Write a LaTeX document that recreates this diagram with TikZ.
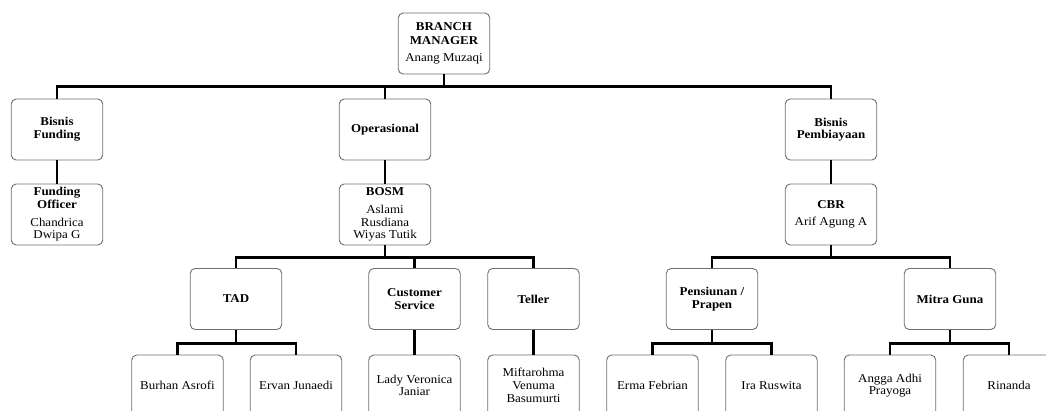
\documentclass[tikz,border=0pt]{standalone}
\usepackage{fontspec}
\setmainfont{Liberation Serif}[FakeStretch=1.08]
\definecolor{boxgray}{RGB}{112,112,112}
\begin{document}
\begin{tikzpicture}[x=1pt,y=-1pt,
  box/.style={draw=boxgray, line width=0.9pt, rounded corners=5pt, fill=white,
    minimum width=91.5pt, minimum height=61pt, align=center, inner sep=1pt,
    font=\fontsize{12}{12.7}\selectfont},
  link/.style={line width=2.4pt, draw=black}]
\useasboundingbox (0,0) rectangle (1046,410);
\clip (0,0) rectangle (1046,410);
\fill[white] (0,0) rectangle (1046,410);

% level 0
\node[box] (bm) at (444,43.5) {\textbf{BRANCH}\\[1.5pt]\textbf{MANAGER}\\[4pt]Anang Muzaqi};
% level 1
\node[box] (bf) at (57,129.5) {\textbf{Bisnis}\\\textbf{Funding}};
\node[box] (op) at (385,129.5) {\textbf{Operasional}};
\node[box] (bp) at (831,129.5) {\textbf{Bisnis}\\\textbf{Pembiayaan}};
% level 2
\node[box] (fo) at (57,214.5) {\textbf{Funding}\\\textbf{Officer}\\[5pt]Chandrica\\Dwipa G};
\node[box] (bosm) at (385,214.5) {\textbf{BOSM}\\[5pt]Aslami\\Rusdiana\\Wiyas Tutik};
\node[box] (cbr) at (831,214.5) {\textbf{CBR}\\[4pt]Arif Agung A};
% level 3
\node[box] (tad) at (236,299) {\textbf{TAD}};
\node[box] (cs) at (414.5,299) {\textbf{Customer}\\\textbf{Service}};
\node[box] (tel) at (533.5,299) {\textbf{Teller}};
\node[box] (pen) at (712,299) {\textbf{Pensiunan /}\\\textbf{Prapen}};
\node[box] (mg) at (950,299) {\textbf{Mitra Guna}};
% level 4
\node[box] (bur) at (177.5,385.5) {Burhan Asrofi};
\node[box] (erv) at (296,385.5) {Ervan Junaedi};
\node[box] (lady) at (414.5,385.5) {Lady Veronica\\Janiar};
\node[box] (mif) at (533.5,385.5) {Miftarohma\\Venuma\\Basumurti};
\node[box] (erma) at (652.5,385.5) {Erma Febrian};
\node[box] (ira) at (771.5,385.5) {Ira Ruswita};
\node[box] (ang) at (890,385.5) {Angga Adhi\\Prayoga};
\node[box] (rin) at (1009,385.5) {Rinanda};

% connectors
\draw[link] (bm.south) -- ++(0,12) coordinate (bus0);
\draw[link] (bus0) -| (bf.north);
\draw[link] (bus0) -| (op.north);
\draw[link] (bus0) -| (bp.north);

\draw[link] (bf.south) -- (fo.north);
\draw[link] (op.south) -- (bosm.north);
\draw[link] (bp.south) -- (cbr.north);

\draw[link] (bosm.south) -- ++(0,12) coordinate (bus1);
\draw[link] (bus1) -| (tad.north);
\draw[link] (bus1) -| (cs.north);
\draw[link] (bus1) -| (tel.north);

\draw[link] (cbr.south) -- ++(0,12) coordinate (bus2);
\draw[link] (bus2) -| (pen.north);
\draw[link] (bus2) -| (mg.north);

\draw[link] (tad.south) -- ++(0,13.5) coordinate (bus3);
\draw[link] (bus3) -| (bur.north);
\draw[link] (bus3) -| (erv.north);
\draw[link] (cs.south) -- (lady.north);
\draw[link] (tel.south) -- (mif.north);

\draw[link] (pen.south) -- ++(0,13.5) coordinate (bus4);
\draw[link] (bus4) -| (erma.north);
\draw[link] (bus4) -| (ira.north);

\draw[link] (mg.south) -- ++(0,13.5) coordinate (bus5);
\draw[link] (bus5) -| (ang.north);
\draw[link] (bus5) -| (rin.north);
\end{tikzpicture}
\end{document}
